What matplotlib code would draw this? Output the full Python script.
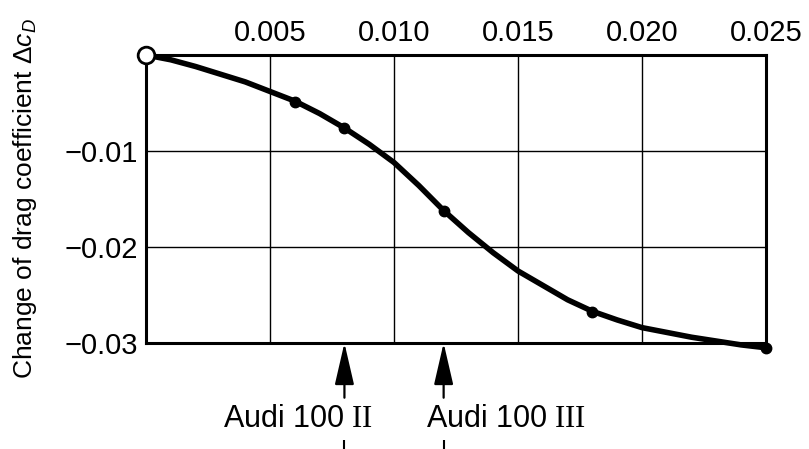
import numpy as np
import matplotlib
matplotlib.use("Agg")
import matplotlib.pyplot as plt
from matplotlib.transforms import blended_transform_factory

plt.rcParams['font.family'] = ['Liberation Sans', 'DejaVu Sans']
plt.rcParams['mathtext.fontset'] = 'custom'
plt.rcParams['mathtext.rm'] = 'Liberation Sans'
plt.rcParams['mathtext.it'] = 'Liberation Sans:italic'
plt.rcParams['mathtext.sf'] = 'Liberation Serif'   # used for the roman numerals

# curve
curve_x = [0.000, 0.001, 0.002, 0.003, 0.004, 0.005, 0.006, 0.007, 0.008, 0.009,
           0.010, 0.011, 0.012, 0.013, 0.014, 0.015, 0.016, 0.017, 0.018, 0.019,
           0.020, 0.021, 0.022, 0.023, 0.024, 0.025]
curve_y = [0.0000, -0.0005, -0.0012, -0.0020, -0.0028, -0.0038, -0.0048, -0.0061, -0.0076, -0.0093,
           -0.0112, -0.0136, -0.0162, -0.0185, -0.0206, -0.0225, -0.0240, -0.0255, -0.0267, -0.0276,
           -0.0284, -0.0289, -0.0294, -0.0298, -0.0302, -0.0305]

# measured points
pts_x = [0.006, 0.008, 0.012, 0.018, 0.025]
pts_y = [-0.0049, -0.0076, -0.0162, -0.0268, -0.0305]
ref_x, ref_y = [0.0], [0.0]

xticks = [0.005, 0.010, 0.015, 0.020, 0.025]
xticklabels = ['0.005', '0.010', '0.015', '0.020', '0.025']
yticks = [-0.01, -0.02, -0.03]
yticklabels = ['\u22120.01', '\u22120.02', '\u22120.03']

cars = ['Audi 100 $\\mathsf{II}$', 'Audi 100 $\\mathsf{III}$']
cars_x = [0.008, 0.012]

fig = plt.figure(figsize=(8.09, 4.49), dpi=100)
ax = fig.add_axes([0.1805, 0.2361, 0.7664, 0.6414])

ax.plot(curve_x, curve_y, color='black', lw=4, solid_capstyle='round',
        solid_joinstyle='round', clip_on=False, zorder=3)
ax.plot(pts_x, pts_y, 'o', color='black', ms=7.5, clip_on=False, zorder=4)
ax.plot(ref_x, ref_y, 'o', mfc='white', mec='black', mew=2, ms=12, clip_on=False, zorder=5)

ax.set_xlim(0, 0.025)
ax.set_ylim(-0.03, 0)
ax.xaxis.tick_top()
ax.set_xticks(xticks)
ax.set_xticklabels(xticklabels, fontsize=21)
ax.set_yticks(yticks)
ax.set_yticklabels(yticklabels, fontsize=21)
ax.tick_params(length=0, pad=6)
ax.grid(True, color='black', lw=1.0)
for s in ax.spines.values():
    s.set_linewidth(2.2)

ax.set_ylabel('Change of drag coefficient $\\Delta c_D$', fontsize=19, labelpad=18)

# axis title, cut off by the top edge
fig.text(587 / 809, 1 - 6 / 449, 'W/D', fontsize=20, ha='center', va='bottom')

# arrows for the two cars; labels sit off-centre as in the original
tr = blended_transform_factory(ax.transData, ax.transAxes)
for name, cx, ha, dx in zip(cars, cars_x, ['right', 'left'], [20, -13]):
    ax.annotate('', xy=(cx, 0), xycoords=tr, xytext=(cx, -0.19), textcoords=tr,
                arrowprops=dict(arrowstyle='-|>,head_length=1.3,head_width=0.3',
                                mutation_scale=20, color='black', lw=1.6,
                                shrinkA=0, shrinkB=0))
    ax.annotate(name, xy=(cx, -0.265), xycoords=tr, xytext=(dx, 0),
                textcoords='offset points', fontsize=22, ha=ha, va='center')
ax.vlines(cars_x, -0.37, -0.338, transform=tr, color='black', lw=1.5, clip_on=False)

fig.savefig('out.png', dpi=100)
